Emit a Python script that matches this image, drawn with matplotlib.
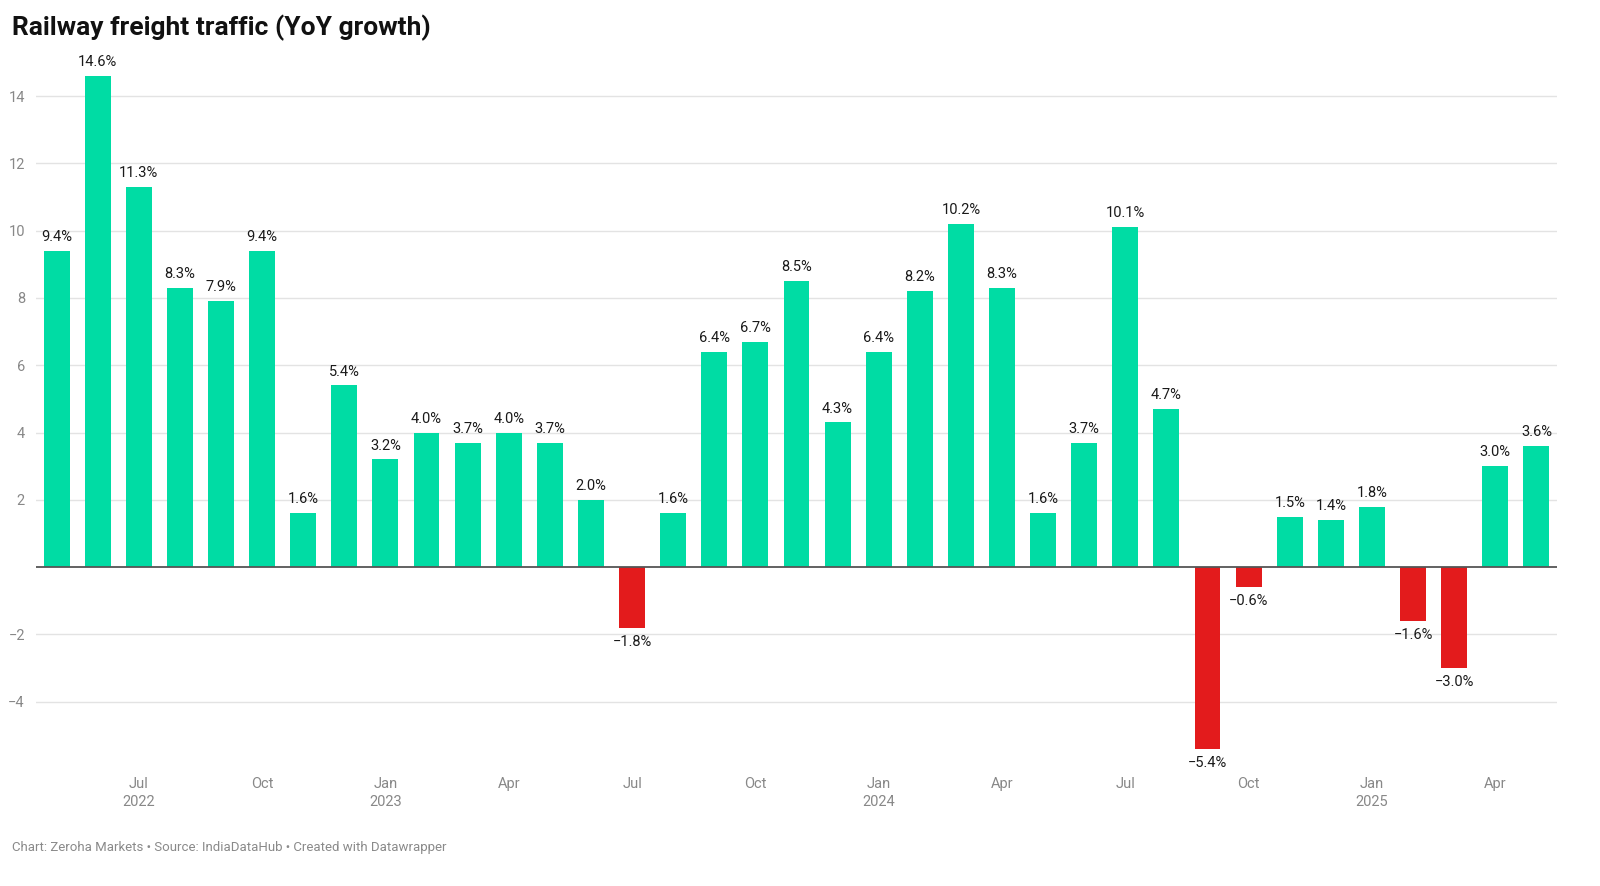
import matplotlib.pyplot as plt
import numpy as np

plt.rcParams['font.family'] = ['Roboto', 'DejaVu Sans']

# monthly YoY growth, May 2022 .. May 2025
months = ['May 22', 'Jun 22', 'Jul 22', 'Aug 22', 'Sep 22', 'Oct 22', 'Nov 22', 'Dec 22',
          'Jan 23', 'Feb 23', 'Mar 23', 'Apr 23', 'May 23', 'Jun 23', 'Jul 23', 'Aug 23',
          'Sep 23', 'Oct 23', 'Nov 23', 'Dec 23', 'Jan 24', 'Feb 24', 'Mar 24', 'Apr 24',
          'May 24', 'Jun 24', 'Jul 24', 'Aug 24', 'Sep 24', 'Oct 24', 'Nov 24', 'Dec 24',
          'Jan 25', 'Feb 25', 'Mar 25', 'Apr 25', 'May 25']
growth = [9.4, 14.6, 11.3, 8.3, 7.9, 9.4, 1.6, 5.4, 3.2, 4.0, 3.7, 4.0, 3.7, 2.0, -1.8, 1.6,
          6.4, 6.7, 8.5, 4.3, 6.4, 8.2, 10.2, 8.3, 1.6, 3.7, 10.1, 4.7, -5.4, -0.6, 1.5, 1.4,
          1.8, -1.6, -3.0, 3.0, 3.6]

tick_months = ['Jul 22', 'Oct 22', 'Jan 23', 'Apr 23', 'Jul 23', 'Oct 23', 'Jan 24', 'Apr 24',
               'Jul 24', 'Oct 24', 'Jan 25', 'Apr 25']
tick_labels = ['Jul\n2022', 'Oct', 'Jan\n2023', 'Apr', 'Jul', 'Oct', 'Jan\n2024', 'Apr',
               'Jul', 'Oct', 'Jan\n2025', 'Apr']

green = '#00dca4'
red = '#e31b1c'

x = np.arange(len(months))
colors = [green if v >= 0 else red for v in growth]

fig = plt.figure(figsize=(16, 8.86), dpi=100)
ax = fig.add_axes([0.0225, 0.132, 0.9506, 0.7975])

ax.bar(x, growth, width=0.63, color=colors, zorder=2)
ax.axhline(0, color='#555555', lw=1.3, zorder=3)

for xi, v in zip(x, growth):
    off = 5 if v >= 0 else -5
    ax.annotate(f"{v:.1f}%".replace('-', '\u2212'), (xi, v), xytext=(0, off),
                textcoords='offset points', ha='center',
                va='bottom' if v >= 0 else 'top', fontsize=10.5, color='#1a1a1a')

ax.set_xlim(-0.5, 36.5)
ax.set_ylim(-6, 15)
yt = [-4, -2, 2, 4, 6, 8, 10, 12, 14]
ax.set_yticks(yt)
ax.set_yticklabels([str(t).replace('-', '\u2212') for t in yt])
ax.grid(axis='y', color='#e3e3e3', lw=1, zorder=0)
ax.set_xticks([months.index(m) for m in tick_months])
ax.set_xticklabels(tick_labels, linespacing=1.35)
ax.tick_params(axis='both', length=0, labelsize=10.5, labelcolor='#888888')
ax.tick_params(axis='y', pad=8)
ax.tick_params(axis='x', pad=6)
for s in ax.spines.values():
    s.set_visible(False)

fig.text(0.0075, 0.969, "Railway freight traffic (YoY growth)", fontsize=19,
         fontweight='bold', color='#111111', va='center')
fig.text(0.0075, 0.043, "Chart: Zeroha Markets \u2022 Source: IndiaDataHub \u2022 Created with Datawrapper",
         fontsize=9.5, color='#8a8a8a', va='center')

plt.savefig('out.png', dpi=100)
